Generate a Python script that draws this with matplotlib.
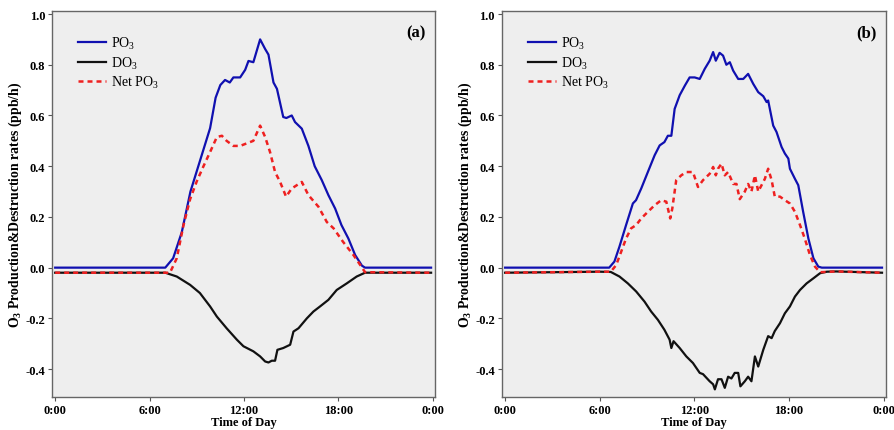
import matplotlib
matplotlib.use('Agg')
import matplotlib.pyplot as plt
from matplotlib import rcParams

rcParams['font.family'] = 'Liberation Serif'
rcParams['mathtext.fontset'] = 'custom'
rcParams['mathtext.rm'] = 'Liberation Serif'
rcParams['mathtext.it'] = 'Liberation Serif:italic'
rcParams['mathtext.bf'] = 'Liberation Serif:bold'

# ---- panel (a) ----
a_po3_t = [0, 7.0, 7.5, 8.05, 8.6, 9.0, 9.4, 9.85, 10.2, 10.5, 10.8, 11.1, 11.33, 11.76,
           12.08, 12.29, 12.6, 13.03, 13.35, 13.56, 13.88, 14.1, 14.5, 14.7, 15.04, 15.25,
           15.68, 16.1, 16.5, 16.95, 17.37, 17.8, 18.2, 18.64, 19.07, 19.5, 19.7, 23.9]
a_po3_v = [0, 0, 0.037, 0.14, 0.30, 0.38, 0.46, 0.55, 0.67, 0.72, 0.74, 0.73, 0.75, 0.75,
           0.78, 0.815, 0.81, 0.90, 0.862, 0.84, 0.73, 0.705, 0.594, 0.59, 0.60, 0.574,
           0.548, 0.48, 0.40, 0.345, 0.286, 0.233, 0.168, 0.115, 0.05, 0.008, 0, 0]

a_net_t = [0, 7.3, 7.73, 8.16, 8.58, 9.0, 9.43, 9.85, 10.28, 10.6, 10.9, 11.33, 11.76,
           12.18, 12.6, 13.03, 13.35, 13.66, 13.98, 14.3, 14.68, 15.04, 15.68, 16.1, 16.74,
           17.27, 17.7, 18.3, 18.96, 19.4, 19.7, 23.9]
a_net_v = [-0.02, -0.02, 0.037, 0.168, 0.27, 0.34, 0.40, 0.456, 0.515, 0.52, 0.50, 0.48,
           0.48, 0.49, 0.50, 0.56, 0.515, 0.456, 0.377, 0.338, 0.28, 0.312, 0.338, 0.286,
           0.24, 0.18, 0.155, 0.102, 0.05, 0.01, -0.018, -0.02]

a_do3_t = [0, 7.0, 7.73, 8.58, 9.2, 9.85, 10.28, 10.9, 11.55, 11.97, 12.6, 13.03, 13.35,
           13.56, 13.77, 13.98, 14.13, 14.5, 14.94, 15.15, 15.47, 16.0, 16.42, 16.84, 17.37,
           17.9, 18.54, 19.17, 19.7, 23.9]
a_do3_v = [-0.02, -0.02, -0.035, -0.068, -0.10, -0.153, -0.193, -0.239, -0.284, -0.31,
           -0.33, -0.35, -0.37, -0.374, -0.367, -0.367, -0.324, -0.317, -0.304, -0.252,
           -0.239, -0.20, -0.173, -0.153, -0.127, -0.088, -0.062, -0.035, -0.02, -0.02]

# ---- panel (b) ----
b_po3_t = [0, 6.6, 6.93, 7.25, 7.67, 8.1, 8.3, 8.63, 9.05, 9.48, 9.8, 10.1, 10.32, 10.54,
           10.75, 11.07, 11.4, 11.7, 12.02, 12.34, 12.66, 12.97, 13.19, 13.36, 13.6, 13.82,
           14.03, 14.25, 14.46, 14.78, 15.1, 15.41, 15.73, 16.05, 16.37, 16.58, 16.68, 17.0,
           17.21, 17.53, 17.74, 17.96, 18.06, 18.38, 18.59, 18.9, 19.23, 19.55, 19.86, 20.08,
           23.9]
b_po3_v = [0, 0, 0.024, 0.083, 0.168, 0.253, 0.266, 0.312, 0.377, 0.443, 0.482, 0.495,
           0.52, 0.52, 0.626, 0.68, 0.718, 0.75, 0.75, 0.744, 0.784, 0.816, 0.85, 0.816,
           0.847, 0.836, 0.80, 0.81, 0.777, 0.744, 0.744, 0.764, 0.725, 0.692, 0.676, 0.653,
           0.659, 0.56, 0.535, 0.476, 0.45, 0.43, 0.39, 0.35, 0.325, 0.22, 0.115, 0.037,
           0.004, 0, 0]

b_net_t = [0, 6.0, 6.7, 7.04, 7.36, 7.67, 7.99, 8.31, 8.63, 9.05, 9.48, 9.9, 10.22, 10.47,
           10.6, 10.85, 11.17, 11.49, 11.91, 12.23, 12.55, 12.97, 13.19, 13.36, 13.5, 13.72,
           13.93, 14.14, 14.46, 14.67, 14.88, 15.2, 15.41, 15.62, 15.84, 16.05, 16.26, 16.47,
           16.68, 16.9, 17.1, 17.43, 17.74, 18.06, 18.38, 18.7, 19.0, 19.33, 19.65, 19.97,
           21.0, 23.9]
b_net_v = [-0.02, -0.016, -0.016, 0.01, 0.063, 0.115, 0.155, 0.168, 0.194, 0.22, 0.246,
           0.266, 0.26, 0.194, 0.233, 0.345, 0.364, 0.377, 0.377, 0.318, 0.345, 0.37, 0.397,
           0.364, 0.39, 0.41, 0.364, 0.377, 0.33, 0.33, 0.27, 0.30, 0.33, 0.30, 0.364, 0.30,
           0.325, 0.35, 0.39, 0.345, 0.28, 0.28, 0.266, 0.253, 0.22, 0.168, 0.115, 0.05,
           0.004, -0.018, -0.015, -0.02]

b_do3_t = [0, 6.0, 6.7, 7.25, 7.78, 8.31, 8.84, 9.26, 9.69, 10.1, 10.43, 10.54, 10.68,
           11.07, 11.49, 11.91, 12.34, 12.55, 12.97, 13.19, 13.3, 13.5, 13.72, 13.93, 14.14,
           14.35, 14.56, 14.78, 14.92, 15.2, 15.41, 15.62, 15.84, 16.05, 16.37, 16.68, 16.9,
           17.1, 17.43, 17.74, 18.06, 18.38, 18.7, 19.12, 19.55, 19.97, 20.4, 21.0, 23.9]
b_do3_v = [-0.02, -0.016, -0.017, -0.035, -0.062, -0.094, -0.134, -0.173, -0.206, -0.245,
           -0.284, -0.317, -0.29, -0.317, -0.35, -0.376, -0.415, -0.42, -0.448, -0.46, -0.48,
           -0.44, -0.44, -0.474, -0.43, -0.437, -0.415, -0.415, -0.468, -0.448, -0.43, -0.448,
           -0.35, -0.39, -0.324, -0.27, -0.278, -0.25, -0.219, -0.18, -0.153, -0.114, -0.088,
           -0.062, -0.042, -0.022, -0.016, -0.015, -0.02]

x_ticks = [0, 6, 12, 18, 24]
x_labels = ['0:00', '6:00', '12:00', '18:00', '0:00']
y_ticks = [-0.4, -0.2, 0.0, 0.2, 0.4, 0.6, 0.8, 1.0]


def draw_panel(ax, po3, do3, net, tag):
    ax.set_facecolor('#eeeeee')
    ax.plot(po3[0], po3[1], color='#1010b0', lw=1.6, label='PO$_3$')
    ax.plot(do3[0], do3[1], color='#111111', lw=1.6, label='DO$_3$')
    ax.plot(net[0], net[1], color='#ee2020', lw=1.8, linestyle=(0, (2, 1.6)),
            label='Net PO$_3$')
    ax.set_xlim(-0.2, 24.15)
    ax.set_ylim(-0.51, 1.012)
    ax.set_xticks(x_ticks)
    ax.set_xticklabels(x_labels)
    ax.set_yticks(y_ticks)
    ax.set_yticklabels(['%.1f' % v for v in y_ticks])
    for lab in ax.get_xticklabels() + ax.get_yticklabels():
        lab.set_fontweight('bold')
        lab.set_fontsize(9)
    ax.tick_params(direction='out', length=3, width=0.8, color='#555555', pad=2)
    for sp in ax.spines.values():
        sp.set_color('#666666')
        sp.set_linewidth(1.0)
    ax.set_xlabel('Time of Day', fontsize=9, fontweight='bold', labelpad=0)
    ax.set_ylabel(r'O$_\mathbf{3}$ Production&Destruction rates (ppb/h)',
                  fontsize=9.9, fontweight='bold', labelpad=1)
    ax.text(0.975, 0.965, tag, transform=ax.transAxes, ha='right', va='top',
            fontsize=12, fontweight='bold')
    ax.legend(loc='upper left', bbox_to_anchor=(0.035, 0.97), frameon=False,
              fontsize=10, handlelength=2.0, handletextpad=0.4, labelspacing=0.25)


fig = plt.figure(figsize=(8.94, 4.31), dpi=100)
ax1 = fig.add_axes([0.0582, 0.0766, 0.4284, 0.8956])
ax2 = fig.add_axes([0.5615, 0.0766, 0.4295, 0.8956])

draw_panel(ax1, (a_po3_t, a_po3_v), (a_do3_t, a_do3_v), (a_net_t, a_net_v), '(a)')
draw_panel(ax2, (b_po3_t, b_po3_v), (b_do3_t, b_do3_v), (b_net_t, b_net_v), '(b)')

fig.savefig('out.png', dpi=100)
